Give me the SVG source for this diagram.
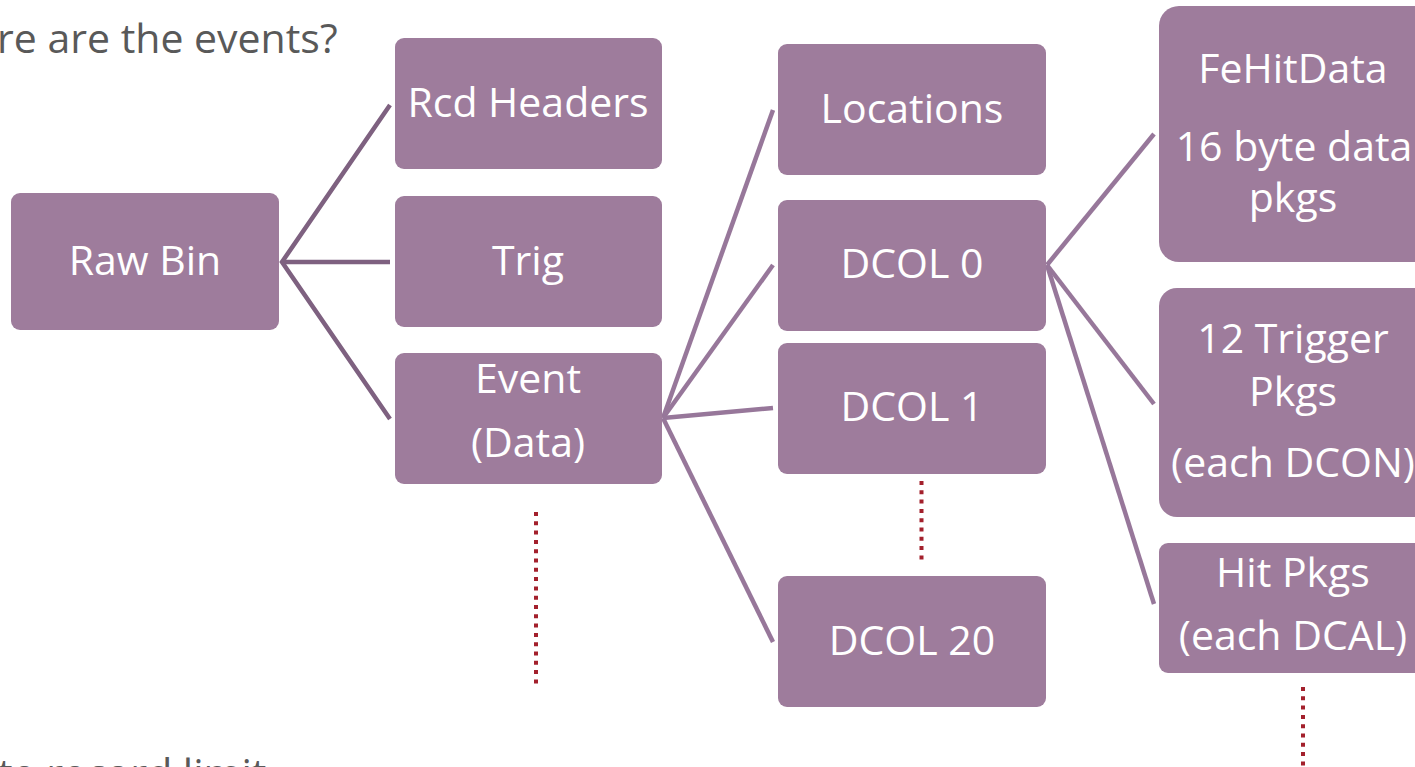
<svg xmlns="http://www.w3.org/2000/svg" width="1415" height="767" viewBox="0 0 1415 767">
  <style>
    .box { fill: #9e7c9c; }
    .lbl { fill: #ffffff; font-family: "Open Sans", "Noto Sans", sans-serif; font-size: 41px; text-anchor: middle; }
    .note { fill: #595959; font-family: "Open Sans", "Noto Sans", sans-serif; font-size: 41px; }
    .link { fill: none; stroke-width: 4.5; stroke-linecap: butt; stroke-linejoin: miter; }
    .dark { stroke: #7e6180; }
    .light { stroke: #97779a; }
    .dots { fill: none; stroke: #a3202c; stroke-width: 4; stroke-dasharray: 4 5.3; }
  </style>
  <rect width="1415" height="767" fill="#ffffff"/>

  <!-- headings -->
  <text class="note" x="-3" y="53">re are the events?</text>
  <text class="note" x="-2" y="788" font-size="43">te record limit</text>

  <!-- connectors -->
  <g id="connectors">
    <polyline class="link dark" points="390,105 282,262 390,419"/>
    <line class="link dark" x1="282" y1="262" x2="390" y2="262"/>
    <line class="link light" x1="663" y1="418" x2="773" y2="110"/>
    <line class="link light" x1="663" y1="418" x2="773" y2="265"/>
    <line class="link light" x1="663" y1="418" x2="773" y2="408"/>
    <line class="link light" x1="663" y1="418" x2="773" y2="642"/>
    <line class="link light" x1="1047" y1="265" x2="1154" y2="134"/>
    <line class="link light" x1="1047" y1="265" x2="1154" y2="404"/>
    <line class="link light" x1="1047" y1="265" x2="1154" y2="604"/>
    <line class="dots" x1="536" y1="512" x2="536" y2="686"/>
    <line class="dots" x1="921.5" y1="481" x2="921.5" y2="560"/>
    <line class="dots" x1="1303" y1="687" x2="1303" y2="770"/>
  </g>

  <g id="raw-bin">
    <rect class="box" x="11" y="193" width="268" height="137" rx="9"/>
    <text class="lbl" x="145" y="275">Raw Bin</text>
  </g>
  <g id="rcd-headers">
    <rect class="box" x="395" y="38" width="267" height="131" rx="9"/>
    <text class="lbl" x="528" y="117">Rcd Headers</text>
  </g>
  <g id="trig">
    <rect class="box" x="395" y="196" width="267" height="131" rx="9"/>
    <text class="lbl" x="528" y="275">Trig</text>
  </g>
  <g id="event">
    <rect class="box" x="395" y="353" width="267" height="131" rx="9"/>
    <text class="lbl" x="528" y="393">Event</text>
    <text class="lbl" x="528" y="457">(Data)</text>
  </g>
  <g id="locations">
    <rect class="box" x="778" y="44" width="268" height="131" rx="9"/>
    <text class="lbl" x="912" y="123">Locations</text>
  </g>
  <g id="dcol-0">
    <rect class="box" x="778" y="200" width="268" height="131" rx="9"/>
    <text class="lbl" x="912" y="278">DCOL 0</text>
  </g>
  <g id="dcol-1">
    <rect class="box" x="778" y="343" width="268" height="131" rx="9"/>
    <text class="lbl" x="912" y="421">DCOL 1</text>
  </g>
  <g id="dcol-20">
    <rect class="box" x="778" y="576" width="268" height="131" rx="9"/>
    <text class="lbl" x="912" y="655">DCOL 20</text>
  </g>
  <g id="fehitdata">
    <rect class="box" x="1159" y="6" width="290" height="256" rx="20"/>
    <text class="lbl" x="1293" y="83">FeHitData</text>
    <text class="lbl" x="1294" y="161">16 byte data</text>
    <text class="lbl" x="1293" y="212">pkgs</text>
  </g>
  <g id="trigger-pkgs">
    <rect class="box" x="1159" y="288" width="290" height="229" rx="18"/>
    <text class="lbl" x="1293" y="353">12 Trigger</text>
    <text class="lbl" x="1293" y="406">Pkgs</text>
    <text class="lbl" x="1293" y="477">(each DCON)</text>
  </g>
  <g id="hit-pkgs">
    <rect class="box" x="1159" y="543" width="290" height="130" rx="9"/>
    <text class="lbl" x="1293" y="587">Hit Pkgs</text>
    <text class="lbl" x="1293" y="650">(each DCAL)</text>
  </g>
</svg>
